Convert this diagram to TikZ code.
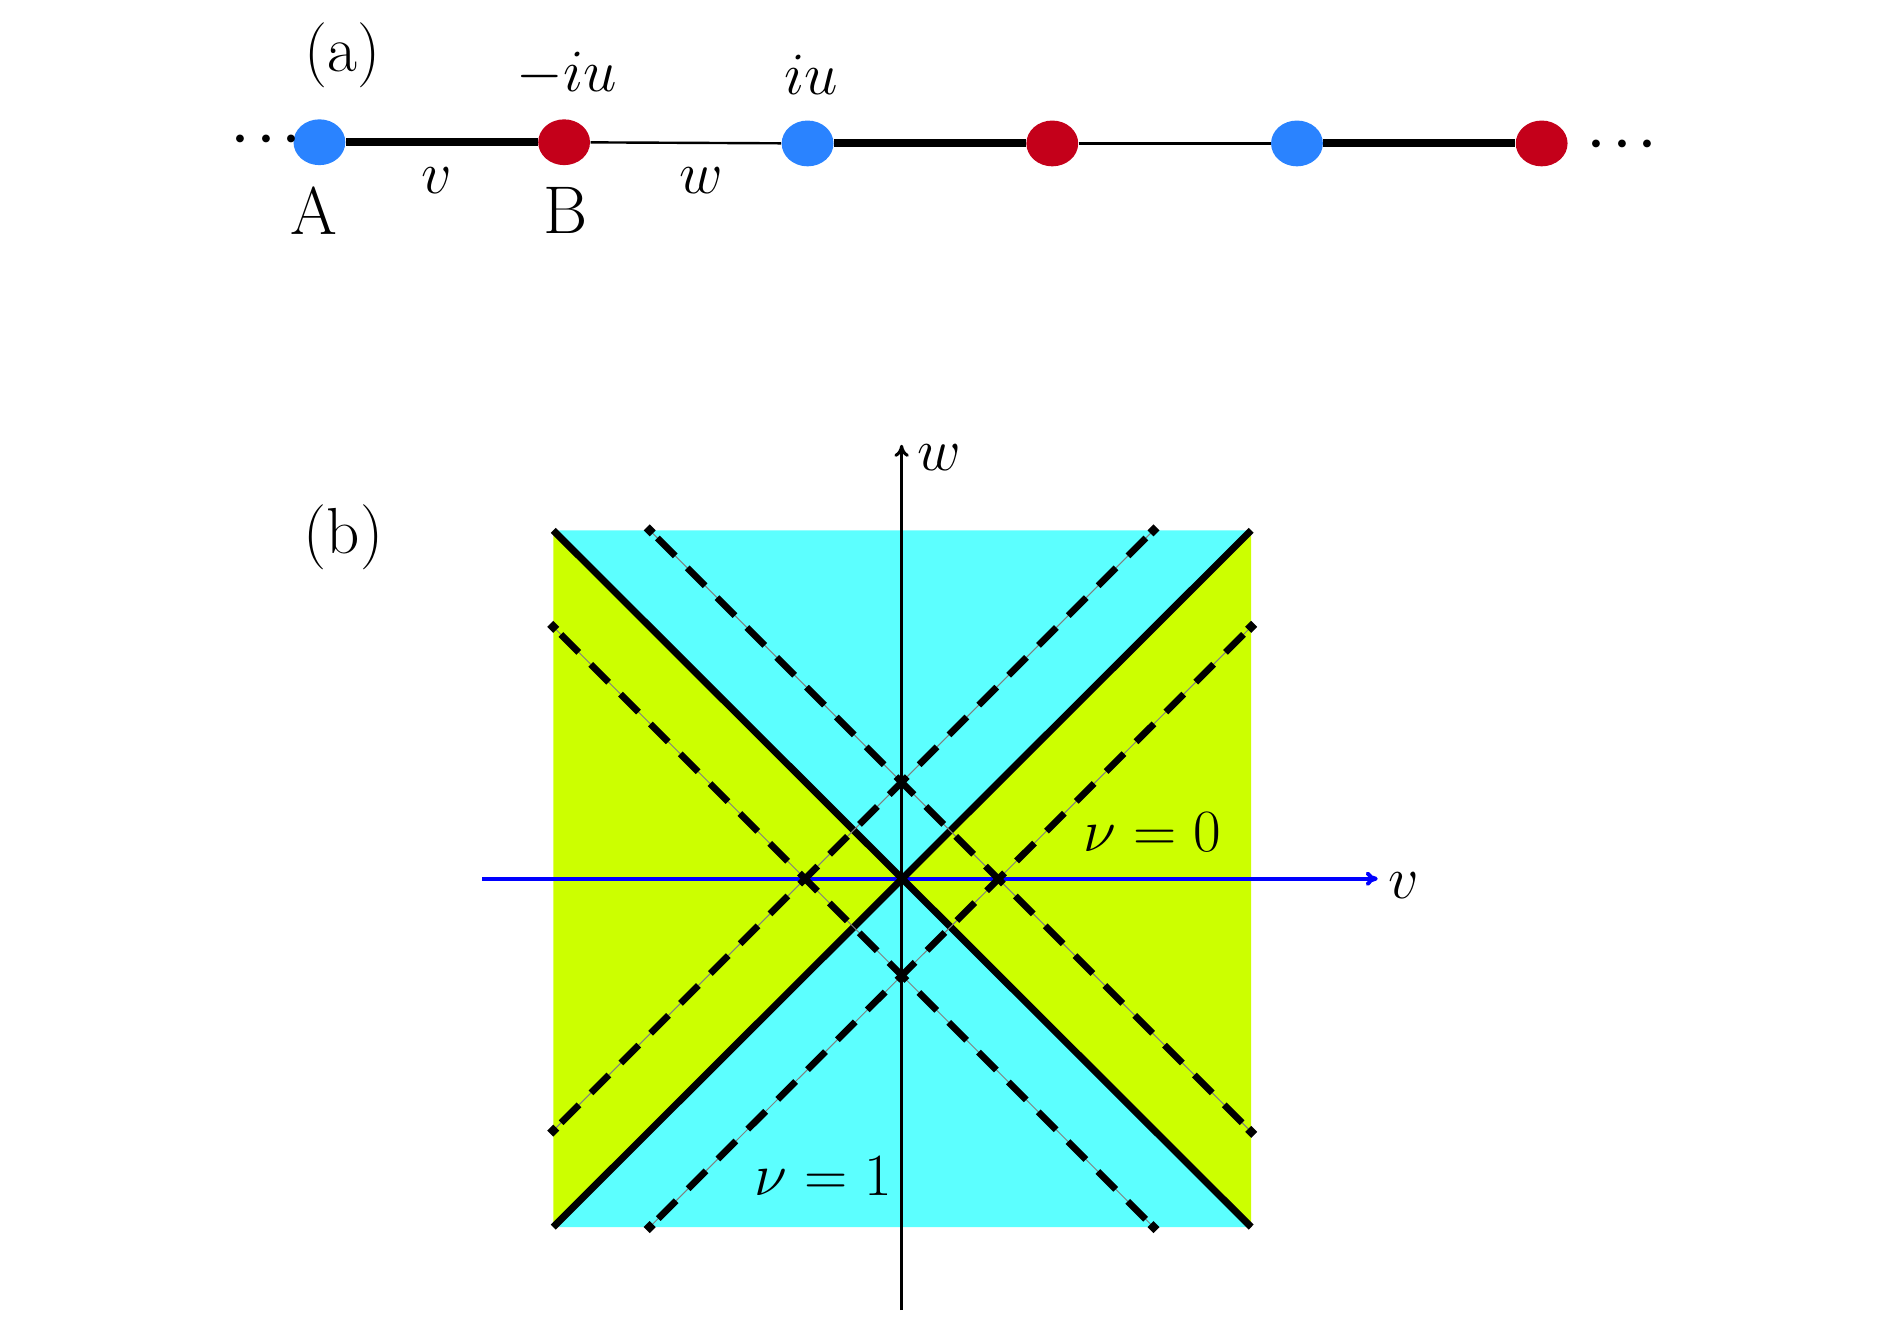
\documentclass[tikz,border=0pt]{standalone}
\usetikzlibrary{shapes.geometric,arrows.meta}
\definecolor{nodeblue}{RGB}{42,131,255}
\definecolor{nodered}{RGB}{196,0,26}
\definecolor{cyanfill}{RGB}{92,255,255}
\definecolor{limefill}{RGB}{204,255,0}
\definecolor{axisblue}{RGB}{0,0,255}
\begin{document}
\begin{tikzpicture}[x=0.5pt,y=-0.5pt,
  font=\fontsize{25}{30}\selectfont,
  site/.style={ellipse, minimum width=21.5pt, minimum height=19pt, inner sep=0pt},
  Asite/.style={site, fill=nodeblue},
  Bsite/.style={site, fill=nodered},
  strongbond/.style={line width=3.3pt},
  weakbond/.style={line width=1pt},
  lbl/.style={inner sep=0pt, anchor=center},
  mlbl/.style={inner sep=0pt, anchor=center, font=\fontsize{26.5}{30}\selectfont},
  sitelbl/.style={inner sep=0pt, anchor=center, font=\fontsize{28}{32}\selectfont},
  panellbl/.style={inner sep=0pt, anchor=center, font=\fontsize{27}{32}\selectfont},
  dotlbl/.style={inner sep=0pt, anchor=base, font=\fontsize{21}{24}\selectfont\boldmath},
  boundary/.style={line width=2.9pt},
  dashbase/.style={gray, line width=0.4pt},
  dashtop/.style={line width=2.8pt, dash pattern=on 10.5pt off 7pt},
  axisline/.style={-{To[length=5pt,width=6pt]}}]
\useasboundingbox (0,0) rectangle (1568,1098);

% ---------------- panel (a) ----------------
\node[panellbl] (la) at (284,46) {(a)};
\node[Asite] (A1) at (265,118) {};
\node[Bsite] (B1) at (468,118) {};
\node[Asite] (A2) at (670,119) {};
\node[Bsite] (B2) at (873,119) {};
\node[Asite] (A3) at (1076,119) {};
\node[Bsite] (B3) at (1279,119) {};
\draw[strongbond] (A1) -- (B1);
\draw[weakbond] (B1) -- (A2);
\draw[strongbond] (A2) -- (B2);
\draw[weakbond] (B2) -- (A3);
\draw[strongbond] (A3) -- (B3);
\node[dotlbl] (dl) at (221,125.5) {$\cdots$};
\node[dotlbl] (dr) at (1346,129.5) {$\cdots$};
\node[mlbl] (tmiu) at (470,62) {$-iu$};
\node[mlbl] (tiu) at (673,62) {$iu$};
\node[mlbl] (tv) at (362,150) {$v$};
\node[mlbl] (tw) at (582,150) {$w$};
\node[sitelbl] (tA) at (260,175) {A};
\node[sitelbl] (tB) at (469,175) {B};

% ---------------- panel (b) ----------------
\node[panellbl] (lb) at (285,446) {(b)};
\coordinate (O) at (748,729);
\coordinate (TL) at (459,440);
\coordinate (TR) at (1038,440);
\coordinate (BL) at (459,1018);
\coordinate (BR) at (1038,1018);
\fill[cyanfill] (TL) -- (TR) -- (O) -- cycle;
\fill[cyanfill] (BL) -- (BR) -- (O) -- cycle;
\fill[limefill] (TL) -- (BL) -- (O) -- cycle;
\fill[limefill] (TR) -- (BR) -- (O) -- cycle;

\coordinate (hs) at (400,729);
\coordinate (he) at (1143,729);
\coordinate (vs) at (748,1087);
\coordinate (ve) at (748,369);
\draw[axisline, axisblue, line width=1.6pt] (hs) -- (he);
\draw[axisline, black, line width=1.25pt] (vs) -- (ve);
\node[lbl] (vlab) at (1165,735) {$v$};
\node[lbl] (wlab) at (779,380) {$w$};

\draw[boundary] (TL) -- (BR);
\draw[boundary] (TR) -- (BL);

% dashed lines: x_m + y_m = +-c, x_m - y_m = +-c  (c = 80)
\coordinate (d1a) at (539,440);  \coordinate (d1b) at (1038,939);
\coordinate (d2a) at (957,440);  \coordinate (d2b) at (459,938);
\coordinate (d3a) at (459,520);  \coordinate (d3b) at (957,1018);
\coordinate (d4a) at (1038,520); \coordinate (d4b) at (539,1018);
\foreach \p/\q in {d1a/d1b, d2a/d2b, d3a/d3b, d4a/d4b}{
  \draw[dashbase] (\p) -- (\q);
  \draw[dashtop, dash phase=13pt] (\p) -- (\q);
  \fill[shift={(\p)}] (-5,0) -- (0,-5) -- (5,0) -- (0,5) -- cycle;
  \fill[shift={(\q)}] (-5,0) -- (0,-5) -- (5,0) -- (0,5) -- cycle;
}

\node[lbl] (nu0) at (956,690) {$\nu=0$};
\node[lbl] (nu1) at (683,976) {$\nu=1$};
\end{tikzpicture}
\end{document}
